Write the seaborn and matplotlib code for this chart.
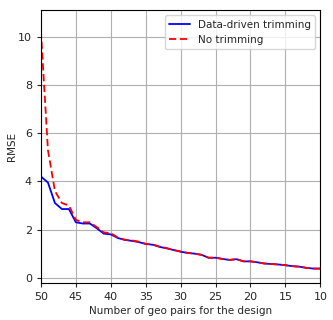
import numpy as np
import pandas as pd
import matplotlib
matplotlib.use("Agg")
import matplotlib.pyplot as plt
import seaborn as sns

pairs = list(range(50, 9, -1))
rmse_trim = [4.2, 3.95, 3.1, 2.85, 2.85, 2.3, 2.25, 2.25, 2.05, 1.83,
             1.8, 1.65, 1.57, 1.53, 1.48, 1.4, 1.37, 1.28, 1.22, 1.15,
             1.08, 1.03, 1.0, 0.95, 0.83, 0.83, 0.78, 0.74, 0.77, 0.68,
             0.68, 0.64, 0.59, 0.57, 0.55, 0.52, 0.48, 0.46, 0.41, 0.38, 0.38]
rmse_notrim = [10.2, 5.3, 3.6, 3.1, 3.0, 2.4, 2.3, 2.3, 2.1, 1.88,
               1.85, 1.67, 1.58, 1.55, 1.5, 1.41, 1.38, 1.29, 1.23, 1.15,
               1.09, 1.03, 1.0, 0.95, 0.83, 0.83, 0.78, 0.74, 0.77, 0.68,
               0.68, 0.64, 0.59, 0.57, 0.55, 0.52, 0.48, 0.46, 0.41, 0.38, 0.38]

df = pd.DataFrame({
    "pairs": pairs * 2,
    "rmse": rmse_trim + rmse_notrim,
    "method": ["Data-driven trimming"] * len(pairs) + ["No trimming"] * len(pairs),
})

sns.set_style("white")
plt.rcParams.update({
    "axes.grid": True,
    "grid.color": "#b0b0b0",
    "grid.linewidth": 0.8,
    "axes.edgecolor": "black",
    "xtick.bottom": True,
    "ytick.left": True,
    "font.family": ["DejaVu Sans"],
})

fig, ax = plt.subplots(figsize=(3.33, 3.2), dpi=100)
sns.lineplot(data=df, x="pairs", y="rmse", hue="method", style="method",
             palette={"Data-driven trimming": "blue", "No trimming": "red"},
             dashes={"Data-driven trimming": "", "No trimming": (4, 2)},
             linewidth=1.3, ax=ax)
ax.set_xlim(50, 10)
ax.set_ylim(-0.2, 11.1)
ax.set_xticks([50, 45, 40, 35, 30, 25, 20, 15, 10])
ax.set_yticks([0, 2, 4, 6, 8, 10])
ax.tick_params(labelsize=8, length=3)
ax.set_xlabel("Number of geo pairs for the design", fontsize=7.5, labelpad=3)
ax.set_ylabel("RMSE", fontsize=7.5, labelpad=1)
ax.legend(loc="upper right", fontsize=7.5, title=None, framealpha=0.8)
fig.subplots_adjust(left=0.123, right=0.962, top=0.968, bottom=0.117)
fig.savefig("out.png", dpi=100)
